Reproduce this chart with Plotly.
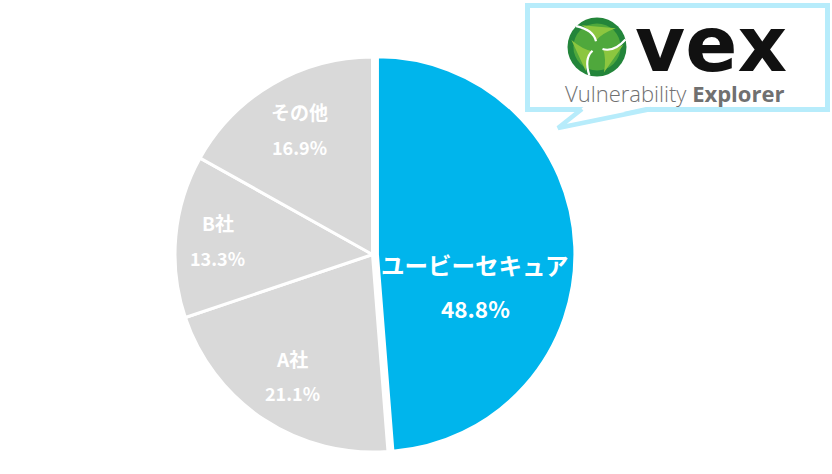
import math
import plotly.graph_objects as go

# ---- data ----
labels = ["ユービーセキュア", "A社", "B社", "その他"]
values = [48.8, 21.1, 13.3, 16.9]

# ---- style ----
W, H = 832, 474
colors = ["#00b5ec", "#d9d9d9", "#d9d9d9", "#d9d9d9"]
pulls = [0.025, 0, 0, 0]
CX, CY, R = 372.5, 254.5, 197.5          # pie center / radius in px
half = R * (1 + max(pulls))
label_frac = [0.52, 0.735, 0.786, 0.735]  # radial placement of labels
label_dy = [36, 0, 0, 0]                  # extra downward shift (px)
name_size = [23.5, 19, 19, 19]
pct_size = [22.5, 18, 18, 18]
gap = [21.5, 17.5, 17.5, 17.5]           # half distance between name/pct lines
FONT = "Noto Sans CJK JP"

fig = go.Figure()
fig.add_trace(go.Pie(
    labels=labels, values=values, sort=False, direction="clockwise", rotation=0,
    marker=dict(colors=colors, line=dict(color="white", width=3)),
    pull=pulls, textinfo="none", hoverinfo="label+value", showlegend=False,
    domain=dict(x=[(CX - half) / W, (CX + half) / W],
                y=[1 - (CY + half) / H, 1 - (CY - half) / H]),
))

annotations = []
total = sum(values)
cum = 0
for i, (lab, v) in enumerate(zip(labels, values)):
    mid = (cum + v / 2) / total * 2 * math.pi
    cum += v
    x = CX + math.sin(mid) * R * label_frac[i]
    y = CY - math.cos(mid) * R * label_frac[i] + label_dy[i]
    annotations.append(dict(x=x, y=y - gap[i], xref="x", yref="y", text=f"<b>{lab}</b>",
                            showarrow=False, font=dict(family=FONT, size=name_size[i], color="white")))
    annotations.append(dict(x=x, y=y + gap[i], xref="x", yref="y", text=f"<b>{v:.1f}%</b>",
                            showarrow=False, font=dict(family=FONT, size=pct_size[i], color="white")))

# ---- logo box (speech bubble) ----
CYAN = "#b7ecfb"
shapes = [
    dict(type="rect", x0=527.5, x1=827.5, y0=5.5, y1=109.5, xref="x", yref="y",
         line=dict(color=CYAN, width=5), fillcolor="white", layer="above"),
    dict(type="path", path="M 584 106.5 L 648 106.5 L 560 126 Z", xref="x", yref="y",
         fillcolor="white", line=dict(width=0), layer="above"),
    dict(type="path", path="M 582 109 L 558 128 L 651 109", xref="x", yref="y",
         line=dict(color=CYAN, width=4.5), layer="above"),
]

# green swirl emblem
GX, GY, GR = 597, 47, 29.5


def pt(r, a):
    a = math.radians(a)
    return GX + GR * r * math.cos(a), GY - GR * r * math.sin(a)


shapes.append(dict(type="circle", x0=GX - GR, x1=GX + GR, y0=GY - GR, y1=GY + GR,
                   xref="x", yref="y", fillcolor="#23853a", line=dict(width=0), layer="above"))
shapes.append(dict(type="circle", x0=GX - GR * 0.8, x1=GX + GR * 0.8, y0=GY - GR * 0.8, y1=GY + GR * 0.8,
                   xref="x", yref="y", fillcolor="#4fa83c", line=dict(width=0), layer="above"))
for k in range(3):
    a = 100 + 120 * k
    p1 = pt(0.22, a); p2 = pt(0.9, a + 25); c1 = pt(0.55, a + 5)
    p3 = pt(0.9, a - 55); c2 = pt(0.5, a - 30)
    shapes.append(dict(type="path", xref="x", yref="y", layer="above",
                       path=f"M {p1[0]:.1f} {p1[1]:.1f} Q {c1[0]:.1f} {c1[1]:.1f} {p2[0]:.1f} {p2[1]:.1f} "
                            f"L {p3[0]:.1f} {p3[1]:.1f} Q {c2[0]:.1f} {c2[1]:.1f} {p1[0]:.1f} {p1[1]:.1f} Z",
                       fillcolor="#8cc63f", line=dict(width=0)))
    q1 = pt(0.2, a); q2 = pt(1.0, a + 35); qc = pt(0.6, a + 2)
    shapes.append(dict(type="path", xref="x", yref="y", layer="above",
                       path=f"M {q1[0]:.1f} {q1[1]:.1f} Q {qc[0]:.1f} {qc[1]:.1f} {q2[0]:.1f} {q2[1]:.1f}",
                       line=dict(color="white", width=2.2)))

annotations.append(dict(x=711, y=44, xref="x", yref="y", text="<b>vex</b>", showarrow=False,
                        height=58, valign="middle",
                        font=dict(family="DejaVu Sans", size=77, color="#111111")))
annotations.append(dict(x=674, y=93, xref="x", yref="y",
                        text="<span style='font-weight:300'>Vulnerability</span> <b>Explorer</b>",
                        showarrow=False, font=dict(family="Open Sans", size=22, color="#707070")))

fig.update_layout(
    width=W, height=H, margin=dict(l=0, r=0, t=0, b=0),
    paper_bgcolor="white", plot_bgcolor="rgba(0,0,0,0)",
    xaxis=dict(range=[0, W], visible=False, fixedrange=True),
    yaxis=dict(range=[H, 0], visible=False, fixedrange=True),
    shapes=shapes, annotations=annotations,
)
fig.write_html("out.html", post_script="document.body.style.margin='0';",
               config={"displayModeBar": False})
